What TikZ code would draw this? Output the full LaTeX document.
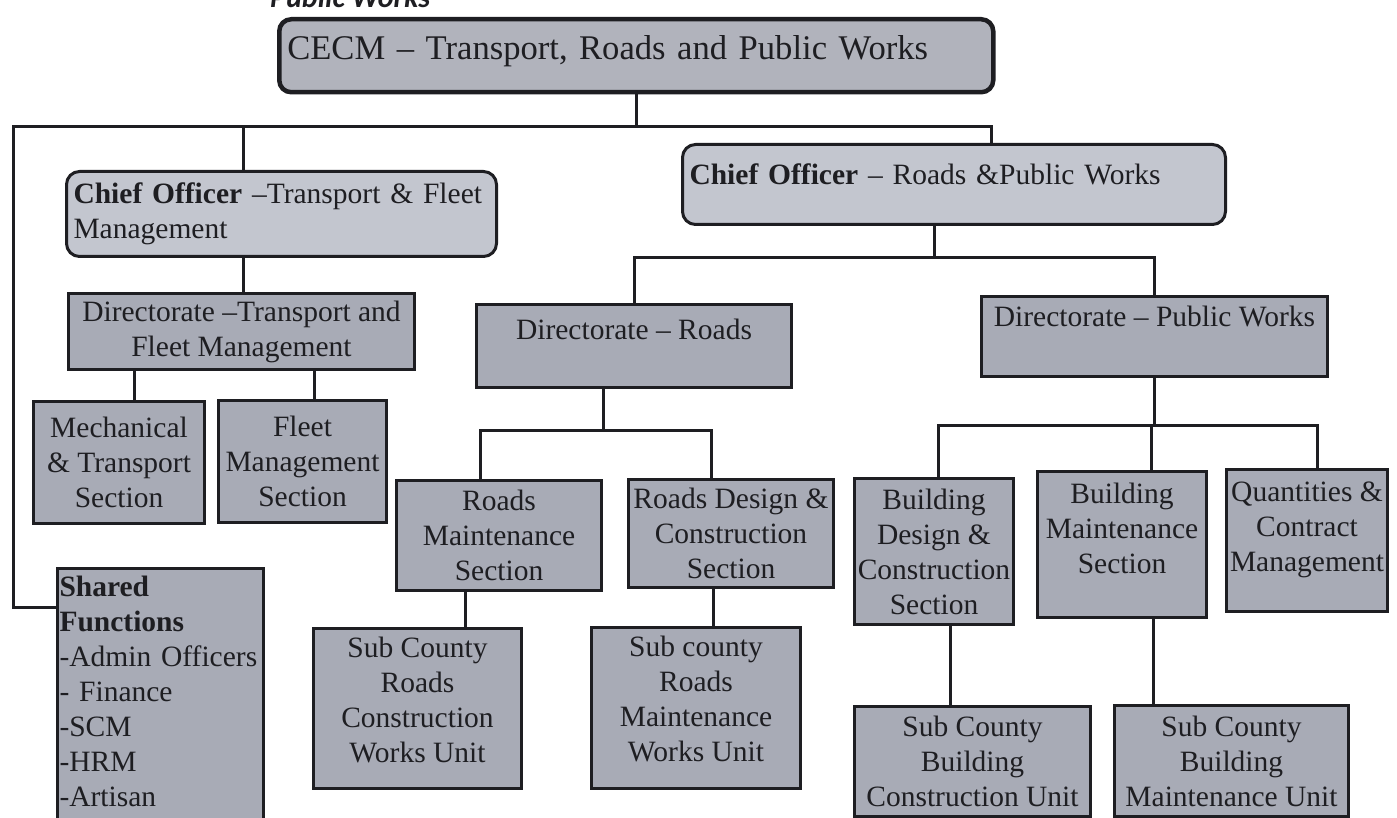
\documentclass[tikz,border=0pt]{standalone}
\usepackage{fontspec}
\setmainfont{Liberation Serif}
\newfontfamily\headfont{Carlito}
\usepackage{tikz}
\definecolor{orgInk}{HTML}{1E1E22}
\definecolor{orgFill}{HTML}{A8ABB6}
\definecolor{orgLight}{HTML}{C3C6CF}
\definecolor{orgTop}{HTML}{B1B3BC}
\newcommand{\boxfont}{\fontsize{29.5}{35}\selectfont}
\newcommand{\titlefont}{\fontsize{34.6}{40}\selectfont}
\newcommand{\lift}[1]{\rule[-#1]{0pt}{#1}}
\tikzset{
  unitbox/.style={draw=orgInk,fill=orgFill,line width=3pt,anchor=north west,
    inner sep=0pt,align=center,font=\boxfont,text=orgInk},
  chiefbox/.style={draw=orgInk,fill=orgLight,line width=3pt,rounded corners=13pt,
    anchor=north west,inner xsep=7pt,inner ysep=0pt,align=left,font=\boxfont,text=orgInk},
  topbox/.style={chiefbox,fill=orgTop,line width=4.5pt,rounded corners=12pt,
    inner xsep=8pt,font=\titlefont},
  link/.style={draw=orgInk,line width=3pt}
}

\begin{document}
\begin{tikzpicture}[x=1pt,y=-1pt]
  \useasboundingbox (0,0) rectangle (1397,818);
  \clip (0,0) rectangle (1397,818);
  \fill[white] (0,0) rectangle (1397,818);

  \node[anchor=base west,inner sep=0pt,text=orgInk,
    font={\fontsize{30}{36}\headfont\bfseries\itshape}] (hdr) at (270,8) {Public Works};

  % top level
  \node[topbox,text width=698pt,minimum height=73pt] (cecm) at (277,17)
    {CECM – Transport, Roads and Public Works\lift{16pt}};

  % chief officers
  \node[chiefbox,text width=416pt,minimum height=85pt] (coTF) at (65,170)
    {\textbf{Chief Officer} –Transport \& Fleet\\Management};
  \node[chiefbox,text width=529pt,minimum height=80pt] (coRP) at (681,143)
    {\textbf{Chief Officer} – Roads \&Public Works\lift{20pt}};

  % directorates
  \node[unitbox,minimum width=346pt,minimum height=76pt] (dTF) at (67,292)
    {Directorate –Transport and\\Fleet Management};
  \node[unitbox,minimum width=315pt,minimum height=83pt] (dR) at (475,303)
    {Directorate – Roads\lift{34pt}};
  \node[unitbox,minimum width=346pt,minimum height=80pt] (dPW) at (980,295)
    {Directorate – Public Works\lift{40pt}};

  % sections
  \node[unitbox,minimum width=171pt,minimum height=122pt] (mech) at (32,400)
    {Mechanical\\\& Transport\\Section};
  \node[unitbox,minimum width=168pt,minimum height=122pt] (fleet) at (217,399)
    {Fleet\\Management\\Section};
  \node[unitbox,minimum width=205pt,minimum height=110pt] (rdm) at (395,479)
    {Roads\\Maintenance\\Section};
  \node[unitbox,minimum width=205pt,minimum height=108pt] (rdc) at (627,478)
    {Roads Design \&\\Construction\\Section};
  \node[unitbox,minimum width=159pt,minimum height=146pt] (bdc) at (853,477)
    {Building\\Design \&\\Construction\\Section};
  \node[unitbox,minimum width=169pt,minimum height=146pt] (bms) at (1036,470)
    {Building\\Maintenance\\Section\lift{32pt}};
  \node[unitbox,minimum width=161pt,minimum height=142pt] (qcm) at (1225,468)
    {Quantities \&\\Contract\\Management\lift{28pt}};

  % shared functions
  \node[unitbox,align=left,minimum width=206pt,inner xsep=2pt,inner ysep=8pt,
    text width=202pt] (shared) at (56,567)
    {\textbf{Shared}\\\textbf{Functions}\\-Admin Officers\\- Finance\\-SCM\\-HRM\\-Artisan\lift{50pt}};

  % units
  \node[unitbox,minimum width=208pt,minimum height=160pt] (scRC) at (312,627)
    {Sub County\\Roads\\Construction\\Works Unit\lift{18pt}};
  \node[unitbox,minimum width=209pt,minimum height=161pt] (scRM) at (590,626)
    {Sub county\\Roads\\Maintenance\\Works Unit\lift{18pt}};
  \node[unitbox,minimum width=236pt,minimum height=110pt] (scBC) at (853,705)
    {Sub County\\Building\\Construction Unit};
  \node[unitbox,minimum width=234pt,minimum height=111pt] (scBM) at (1113,704)
    {Sub County\\Building\\Maintenance Unit};

  % bus points
  \coordinate (topL) at (13,127);
  \coordinate (topA) at (243,127);
  \coordinate (topR) at (991,127);
  \coordinate (shJ) at (13,607);
  \coordinate (coJ) at (934,258);
  \coordinate (rdJ) at (603,430);
  \coordinate (pwJ) at (1151,425);

  \draw[link] (cecm.south) -- (cecm.south |- topA);
  \draw[link] (shared.west |- shJ) -- (shJ) -- (topL) -- (topR) -- (topR |- coRP.north);
  \draw[link] (topA) -- (topA |- coTF.north);
  \draw[link] (coTF.south -| topA) -- (dTF.north -| topA);
  \draw[link] ([xshift=15.5pt]mech.north) -- ([xshift=15.5pt]mech.north |- dTF.south);
  \draw[link] ([xshift=12pt]fleet.north) -- ([xshift=12pt]fleet.north |- dTF.south);

  \draw[link] (coRP.south -| coJ) -- (coJ);
  \draw[link] (dR.north) |- (coJ) -| (dPW.north);

  \draw[link] (dR.south -| rdJ) -- (rdJ);
  \draw[link] ([xshift=-18.5pt]rdm.north) |- (rdJ) -| ([xshift=-19.5pt]rdc.north);
  \draw[link] ([xshift=-33.5pt]rdm.south) -- ([xshift=-33.5pt]rdm.south |- scRC.north);
  \draw[link] ([xshift=-17.5pt]rdc.south) -- ([xshift=-17.5pt]rdc.south |- scRM.north);

  \draw[link] (dPW.south) -- (dPW.south |- pwJ);
  \draw[link] ([xshift=4.5pt]bdc.north) |- (pwJ) -| ([xshift=10pt]qcm.north);
  \draw[link] (pwJ) -- (pwJ |- bms.north);
  \draw[link] ([xshift=16.5pt]bdc.south) -- ([xshift=16.5pt]bdc.south |- scBC.north);
  \draw[link] ([xshift=31.5pt]bms.south) -- ([xshift=31.5pt]bms.south |- scBM.north);
\end{tikzpicture}
\end{document}
